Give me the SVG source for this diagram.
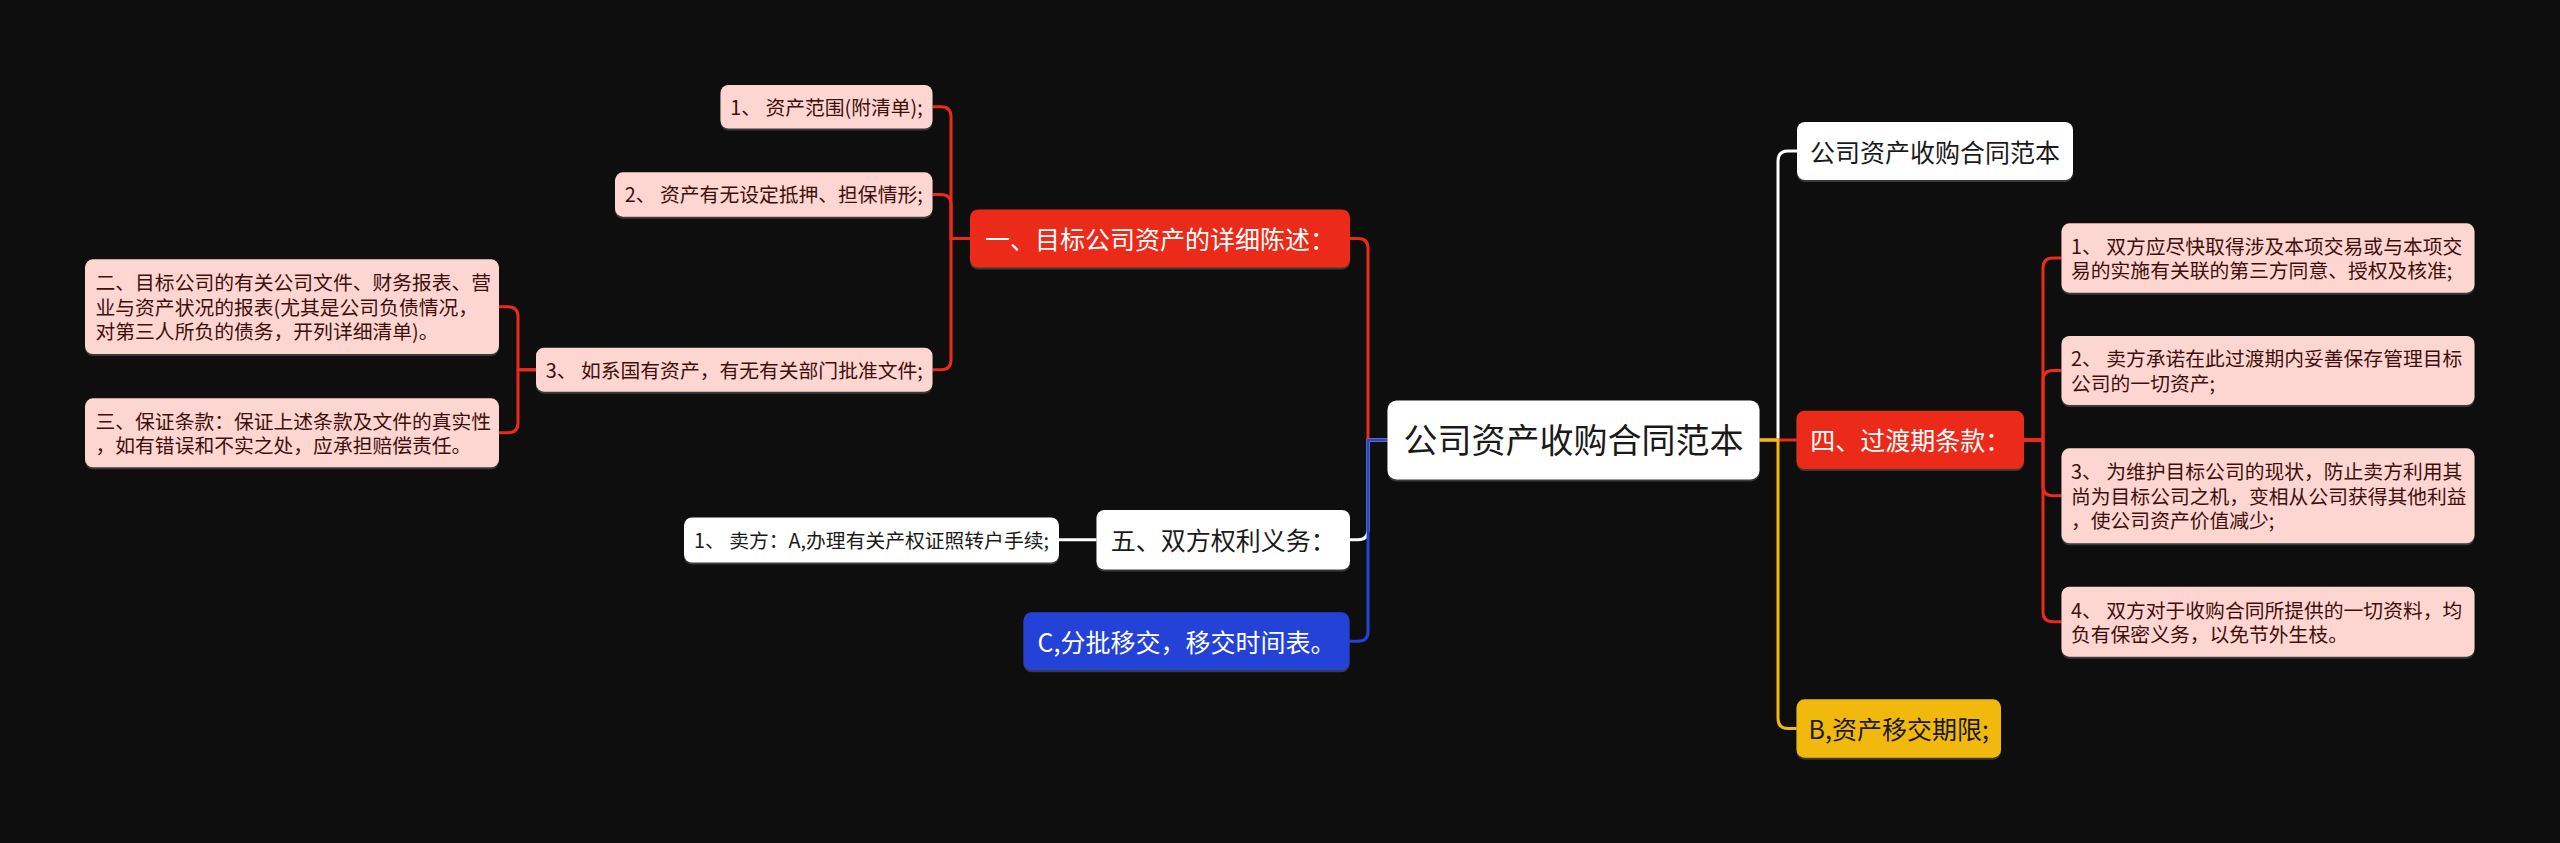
<svg xmlns="http://www.w3.org/2000/svg" width="2560" height="843" viewBox="0 0 2560 843">
<defs>
<style>
text{font-family:"Noto Sans CJK SC","Noto Sans",sans-serif;}
.sh{fill:#3a3a3a;}
.white{fill:#ffffff;}
.red{fill:#ec2a19;}
.pink{fill:#fdd6d2;}
.blue{fill:#2442d8;}
.yellow{fill:#f1b90e;}
.t34{font-size:34px;fill:#1a1a1a;text-anchor:middle;}
.t25d{font-size:25px;fill:#1a1a1a;text-anchor:middle;}
.t25w{font-size:25px;fill:#ffffff;text-anchor:middle;}
.t20p{font-size:19.8px;fill:#3f0f0b;}
.t20pm{font-size:19.8px;fill:#3f0f0b;text-anchor:middle;}
.t20d{font-size:19.8px;fill:#1a1a1a;text-anchor:middle;}
.c{fill:none;stroke-width:3;stroke-linecap:round;stroke-linejoin:round;}
.cr{stroke:#ec2a19;}
.cw{stroke:#ffffff;}
.cb{stroke:#2442d8;}
.cy{stroke:#f1b90e;}
</style>
</defs>
<rect x="0" y="0" width="2560" height="843" fill="#0e0e0e"/>

<g id="connectors">
<path class="c cr" d="M1388,440 H1368 V248.5 Q1368,238.5 1358,238.5 H1350"/>
<path class="c cw" d="M1388,440 H1368 V529.7 Q1368,539.7 1358,539.7 H1350"/>
<path class="c cb" d="M1388,440 H1368 V631.3 Q1368,641.3 1358,641.3 H1349"/>
<path class="c cw" d="M1759,440 H1778 V161 Q1778,151 1788,151 H1797"/>
<path class="c cr" d="M1759,440 H1797"/>
<path class="c cy" d="M1759,440 H1778 V718.5 Q1778,728.5 1788,728.5 H1797"/>
<path class="c cr" d="M970,238.5 H951 V116.7 Q951,106.7 941,106.7 H932.5"/>
<path class="c cr" d="M970,238.5 H951 V204.5 Q951,194.5 941,194.5 H932.5"/>
<path class="c cr" d="M970,238.5 H951 V359.7 Q951,369.7 941,369.7 H932.5"/>
<path class="c cr" d="M536,369.7 H518 V316.7 Q518,306.7 508,306.7 H499"/>
<path class="c cr" d="M536,369.7 H518 V422.8 Q518,432.8 508,432.8 H499"/>
<path class="c cw" d="M1096.5,539.7 H1059"/>
<path class="c cr" d="M2024,440 H2043 V268 Q2043,258 2053,258 H2062"/>
<path class="c cr" d="M2024,440 H2043 V380.5 Q2043,370.5 2053,370.5 H2062"/>
<path class="c cr" d="M2024,440 H2043 V485.8 Q2043,495.8 2053,495.8 H2062"/>
<path class="c cr" d="M2024,440 H2043 V611.7 Q2043,621.7 2053,621.7 H2062"/>
</g>

<g id="root">
<rect class="sh" x="1387.5" y="402.5" width="372" height="79" rx="9"/>
<rect class="white" x="1387.5" y="400.5" width="372" height="79" rx="9"/>
<text class="t34" x="1573.5" y="453">公司资产收购合同范本</text>
</g>

<g id="n1">
<rect class="sh" x="970" y="211.5" width="380" height="58" rx="8"/>
<rect class="red" x="970" y="209.5" width="380" height="58" rx="8"/>
<text class="t25w" x="1160" y="249">一、目标公司资产的详细陈述：</text>
</g>

<g id="n1a">
<rect class="sh" x="720.5" y="87" width="212" height="43.5" rx="8"/>
<rect class="pink" x="720.5" y="85" width="212" height="43.5" rx="8"/>
<text class="t20pm" x="826.5" y="114.5">1、 资产范围(附清单);</text>
</g>

<g id="n1b">
<rect class="sh" x="615" y="174.3" width="317.5" height="44.4" rx="8"/>
<rect class="pink" x="615" y="172.3" width="317.5" height="44.4" rx="8"/>
<text class="t20pm" x="773.8" y="202.3">2、 资产有无设定抵押、担保情形;</text>
</g>

<g id="n1c">
<rect class="sh" x="536" y="349.7" width="396.5" height="44" rx="8"/>
<rect class="pink" x="536" y="347.7" width="396.5" height="44" rx="8"/>
<text class="t20pm" x="734.3" y="377.5">3、 如系国有资产，有无有关部门批准文件;</text>
</g>

<g id="n1c1">
<rect class="sh" x="85" y="261.3" width="414" height="94.7" rx="8"/>
<rect class="pink" x="85" y="259.3" width="414" height="94.7" rx="8"/>
<text class="t20p" x="95.5" y="290.2">二、目标公司的有关公司文件、财务报表、营</text>
<text class="t20p" x="95.5" y="314.7">业与资产状况的报表(尤其是公司负债情况，</text>
<text class="t20p" x="95.5" y="339.2">对第三人所负的债务，开列详细清单)。</text>
</g>

<g id="n1c2">
<rect class="sh" x="85" y="400.3" width="414" height="69" rx="8"/>
<rect class="pink" x="85" y="398.3" width="414" height="69" rx="8"/>
<text class="t20p" x="95.5" y="428.6">三、保证条款：保证上述条款及文件的真实性</text>
<text class="t20p" x="95.5" y="453.1">，如有错误和不实之处，应承担赔偿责任。</text>
</g>

<g id="n5">
<rect class="sh" x="1096.5" y="512" width="253.5" height="59.5" rx="8"/>
<rect class="white" x="1096.5" y="510" width="253.5" height="59.5" rx="8"/>
<text class="t25d" x="1223.3" y="550">五、双方权利义务：</text>
</g>

<g id="n5a">
<rect class="sh" x="684" y="519.5" width="375" height="45" rx="8"/>
<rect class="white" x="684" y="517.5" width="375" height="45" rx="8"/>
<text class="t20d" x="871.5" y="547.8">1、 卖方：A,办理有关产权证照转户手续;</text>
</g>

<g id="nC">
<rect class="sh" x="1023.5" y="614.3" width="326" height="58" rx="8"/>
<rect class="blue" x="1023.5" y="612.3" width="326" height="58" rx="8"/>
<text class="t25w" x="1186.5" y="651.5">C,分批移交，移交时间表。</text>
</g>

<g id="nTop">
<rect class="sh" x="1797" y="124" width="276" height="58" rx="8"/>
<rect class="white" x="1797" y="122" width="276" height="58" rx="8"/>
<text class="t25d" x="1935" y="161.5">公司资产收购合同范本</text>
</g>

<g id="n4">
<rect class="sh" x="1796.5" y="412.7" width="227.5" height="58.3" rx="8"/>
<rect class="red" x="1796.5" y="410.7" width="227.5" height="58.3" rx="8"/>
<text class="t25w" x="1910.3" y="450.3">四、过渡期条款：</text>
</g>

<g id="n4a">
<rect class="sh" x="2061.5" y="225.3" width="413" height="69.4" rx="8"/>
<rect class="pink" x="2061.5" y="223.3" width="413" height="69.4" rx="8"/>
<text class="t20p" x="2071" y="253.8">1、 双方应尽快取得涉及本项交易或与本项交</text>
<text class="t20p" x="2071" y="278.3">易的实施有关联的第三方同意、授权及核准;</text>
</g>

<g id="n4b">
<rect class="sh" x="2061.5" y="338" width="413" height="69" rx="8"/>
<rect class="pink" x="2061.5" y="336" width="413" height="69" rx="8"/>
<text class="t20p" x="2071" y="366.3">2、 卖方承诺在此过渡期内妥善保存管理目标</text>
<text class="t20p" x="2071" y="390.8">公司的一切资产;</text>
</g>

<g id="n4c">
<rect class="sh" x="2061.5" y="450.3" width="413" height="95" rx="8"/>
<rect class="pink" x="2061.5" y="448.3" width="413" height="95" rx="8"/>
<text class="t20p" x="2071" y="479.3">3、 为维护目标公司的现状，防止卖方利用其</text>
<text class="t20p" x="2071" y="503.8">尚为目标公司之机，变相从公司获得其他利益</text>
<text class="t20p" x="2071" y="528.3">，使公司资产价值减少;</text>
</g>

<g id="n4d">
<rect class="sh" x="2061.5" y="588.7" width="413" height="70" rx="8"/>
<rect class="pink" x="2061.5" y="586.7" width="413" height="70" rx="8"/>
<text class="t20p" x="2071" y="617.5">4、 双方对于收购合同所提供的一切资料，均</text>
<text class="t20p" x="2071" y="642">负有保密义务，以免节外生枝。</text>
</g>

<g id="nB">
<rect class="sh" x="1796.5" y="701.3" width="204.5" height="58.4" rx="8"/>
<rect class="yellow" x="1796.5" y="699.3" width="204.5" height="58.4" rx="8"/>
<text class="t25d" x="1898.7" y="739">B,资产移交期限;</text>
</g>
</svg>
